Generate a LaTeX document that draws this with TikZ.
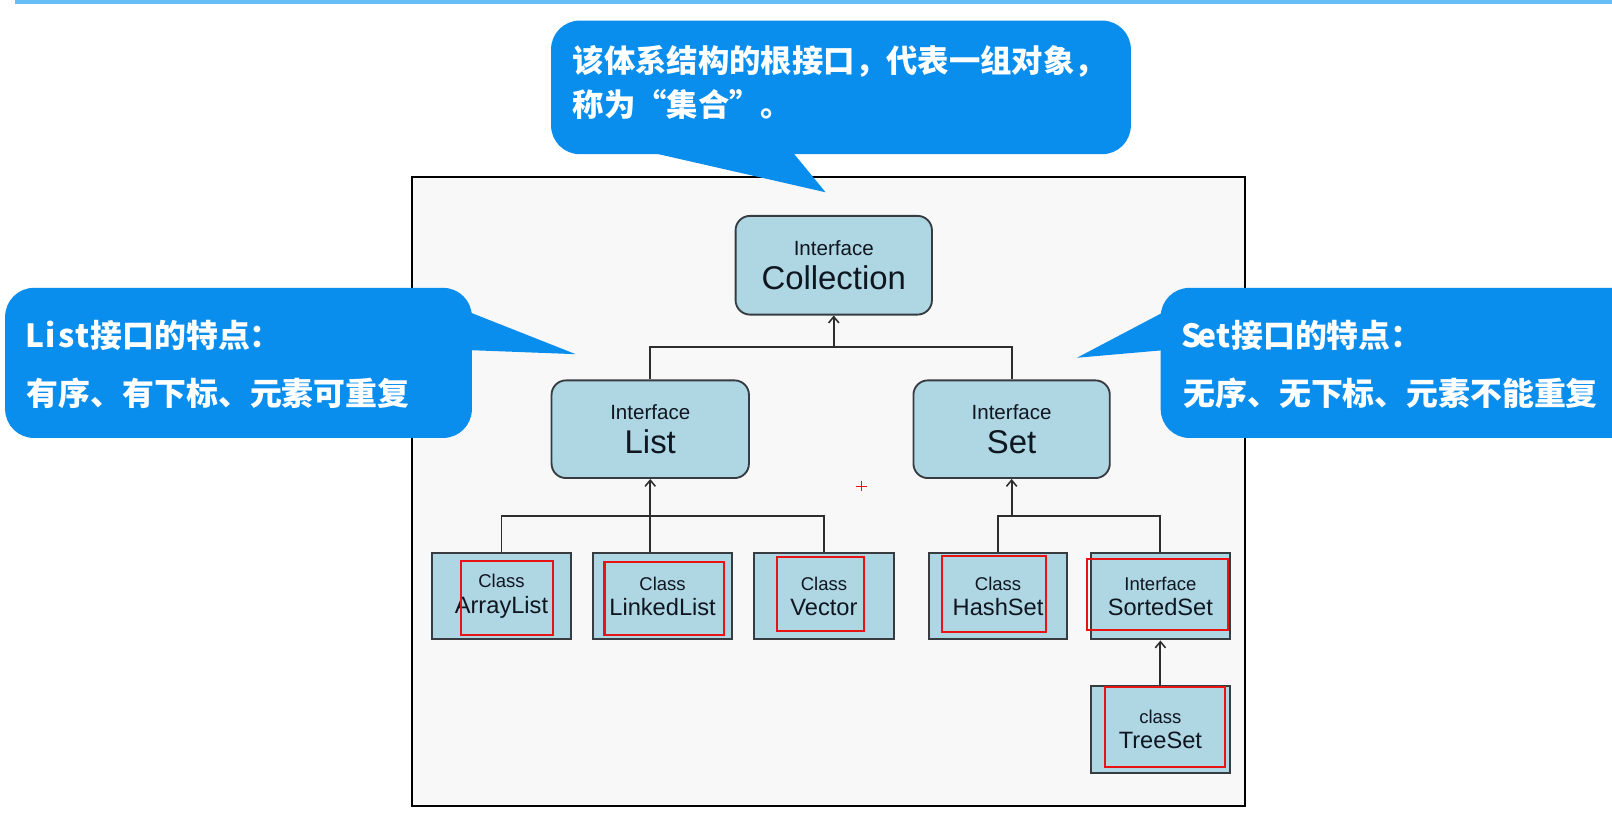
\documentclass[tikz,border=0pt]{standalone}
\usepackage{fontspec}
\setmainfont{Liberation Sans}
\newfontfamily\cjk{Noto Sans CJK SC}
\usetikzlibrary{arrows.meta}
\definecolor{bubblec}{RGB}{10,142,238}
\definecolor{barc}{RGB}{102,190,246}
\definecolor{framefill}{RGB}{248,248,248}
\definecolor{boxfill}{RGB}{174,214,227}
\definecolor{boxline}{RGB}{55,60,65}
\definecolor{linec}{RGB}{45,45,45}
\definecolor{txtc}{RGB}{15,22,32}
\definecolor{redc}{RGB}{232,20,20}
\newcommand\hwc[1]{\makebox[0.5em][c]{#1}}
\begin{document}
\begin{tikzpicture}[x=1pt,y=-1pt,
  ibox/.style={draw=boxline, fill=boxfill, rounded corners=14pt, line width=1.8pt, inner sep=0pt, align=center, text=txtc},
  cbox/.style={draw=boxline, fill=boxfill, line width=2pt, inner sep=0pt, align=center, text=txtc},
  conn/.style={draw=linec, line width=1.8pt},
  arr/.style={conn, -{Straight Barb[length=6pt,width=10pt,line width=1.5pt]}},
  redbox/.style={draw=redc, line width=2pt},
  bubble/.style={fill=bubblec, rounded corners=28pt, inner sep=0pt},
  btext/.style={text=white, anchor=west, inner sep=0pt}
]
\useasboundingbox (0,0) rectangle (1568,815);
\clip (0,0) rectangle (1568,815);
\fill[white] (0,0) rectangle (1568,815);
% top bar
\fill[barc] (15,0) rectangle (1568,4);
% frame
\draw[fill=framefill, line width=2pt] (401,172) rectangle (1211,784);

% interface boxes
\node[ibox, minimum width=191pt, minimum height=96pt] (coll) at (811,258)
  {\fontsize{20}{24}\selectfont Interface\\[9pt]\fontsize{32}{36}\selectfont Collection};
\node[ibox, minimum width=192pt, minimum height=95pt] (list) at (632.5,417.5)
  {\fontsize{20}{24}\selectfont Interface\\[9pt]\fontsize{32}{36}\selectfont List};
\node[ibox, minimum width=191pt, minimum height=95pt] (set) at (984,417.5)
  {\fontsize{20}{24}\selectfont Interface\\[9pt]\fontsize{32}{36}\selectfont Set};

% class boxes
\node[cbox, minimum width=136pt, minimum height=84pt] (al) at (487.8,580)
  {\fontsize{18}{20}\selectfont Class\\[7pt]\fontsize{23}{26}\selectfont ArrayList};
\node[cbox, minimum width=135pt, minimum height=84pt] (ll) at (644.5,580)
  {\fontsize{18}{20}\selectfont Class\\[7pt]\fontsize{23}{26}\selectfont LinkedList};
\node[cbox, minimum width=136pt, minimum height=84pt] (vec) at (801.5,580)
  {\fontsize{18}{20}\selectfont Class\\[7pt]\fontsize{23}{26}\selectfont Vector};
\node[cbox, minimum width=134pt, minimum height=84pt] (hs) at (970.8,580)
  {\fontsize{18}{20}\selectfont Class\\[7pt]\fontsize{23}{26}\selectfont HashSet};
\node[cbox, minimum width=135pt, minimum height=84pt] (ss) at (1128.7,580)
  {\fontsize{18}{20}\selectfont Interface\\[7pt]\fontsize{23}{26}\selectfont SortedSet};
\node[cbox, minimum width=135pt, minimum height=85pt] (ts) at (1128.7,709.5)
  {\fontsize{18}{20}\selectfont class\\[8pt]\fontsize{23}{26}\selectfont TreeSet};

% connectors
\coordinate (jC) at (811,337.5);
\coordinate (jL) at (632.5,502);
\coordinate (jS) at (984,502);
\draw[conn] (list.north) |- (jC) -| (set.north);
\draw[arr] (jC) -- (coll.south);
\draw[conn] (al.north) |- (jL) -| (vec.north);
\draw[arr] (ll.north -| list.south) -- (list.south);
\draw[conn] (hs.north) |- (jS) -| (ss.north);
\draw[arr] (jS) -- (set.south);
\draw[arr] (ts.north) -- (ss.south);

% red annotation rectangles
\draw[redbox] (448,545.4) rectangle (537.6,617.7);
\draw[redbox] (588,546.4) rectangle (704,617.7);
\draw[redbox] (755.4,541.5) rectangle (840.5,613.8);
\draw[redbox] (916.7,540.5) rectangle (1017.5,615);
\draw[redbox] (1057,544) rectangle (1194.6,613);
\draw[redbox] (1075,668) rectangle (1192,746);
% red plus
\draw[redc, line width=1.5pt] (833,473) -- (843,473) (838,468) -- (838,478);

% callouts
\node[bubble, minimum width=564pt, minimum height=130pt] (topb) at (818,85) {};
\fill[bubblec] (632,148) -- (771,148) -- (803,187) -- cycle;
\node[btext, font=\cjk\bfseries\fontsize{30.5}{36}\selectfont] (t1) at (557,60) {该体系结构的根接口，代表一组对象，};
\node[btext, font=\cjk\bfseries\fontsize{30.5}{36}\selectfont] (t2) at (557,102) {称为“集合”。};

\node[bubble, minimum width=454pt, minimum height=146pt] (leftb) at (232,353) {};
\fill[bubblec] (455,303) -- (455,340.5) -- (560,344.5) -- cycle;
\node[btext, font=\cjk\bfseries\fontsize{31}{36}\selectfont] (l1) at (26,326) {\hwc{L}\hwc{i}\hwc{s}\hwc{t}接口的特点：};
\node[btext, font=\cjk\bfseries\fontsize{31}{36}\selectfont] (l2) at (26,383) {有序、有下标、元素可重复};

\node[bubble, minimum width=480pt, minimum height=146pt] (rightb) at (1369,353) {};
\fill[bubblec] (1133,303) -- (1133,340.5) -- (1047.5,348) -- cycle;
\node[btext, font=\cjk\bfseries\fontsize{31}{36}\selectfont] (r1) at (1151,326) {\hwc{S}\hwc{e}\hwc{t}接口的特点：};
\node[btext, font=\cjk\bfseries\fontsize{31}{36}\selectfont] (r2) at (1151,383) {无序、无下标、元素不能重复};
\end{tikzpicture}
\end{document}
